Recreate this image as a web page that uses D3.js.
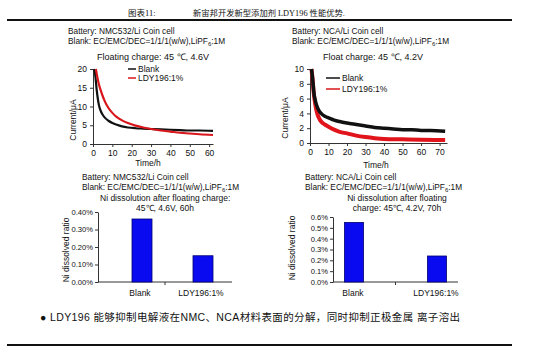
<!DOCTYPE html>
<html>
<head>
<meta charset="utf-8">
<script src="https://cdn.jsdelivr.net/npm/d3@7"></script>
<style>
  body { margin: 0; background: #fff; }
  svg text { font-family: "Liberation Sans", Arial, sans-serif; fill: #111; }
  .axis path, .axis line { stroke: #333; }
  .axis text { font-family: "Liberation Sans", Arial, sans-serif; font-size: 8.5px; fill: #111; }
  .bars .axis text { font-size: 7.6px; }
</style>
</head>
<body>
<svg id="chart" width="550" height="350"></svg>
<script>
// floating charge current, NMC532/Li (time in h, current in uA)
var nmcBlankTime = [0.5, 1, 2, 3, 4, 5, 6, 8, 10, 12, 15, 18, 22, 26, 30, 35, 40, 45, 50, 55, 62];
var nmcBlankCur  = [20, 19, 14, 10.5, 8.8, 7.8, 7.1, 6.2, 5.6, 5.2, 4.7, 4.4, 4.2, 4.1, 4.0, 3.9, 3.8, 3.7, 3.6, 3.6, 3.5];
var nmcLdyTime = [1.5, 2, 3, 4, 5, 6, 8, 10, 12, 15, 18, 22, 26, 30, 35, 40, 45, 50, 55, 62];
var nmcLdyCur  = [20, 18.5, 16, 14.3, 12.8, 11.5, 9.6, 8.3, 7.3, 6.3, 5.6, 4.9, 4.4, 4.0, 3.6, 3.3, 3.0, 2.8, 2.6, 2.4];

// float charge current, NCA/Li
var ncaBlankTime = [0.8, 1.5, 2, 3, 4, 5, 6, 8, 10, 13, 16, 20, 25, 30, 35, 40, 45, 50, 55, 60, 65, 73];
var ncaBlankCur  = [10, 8.5, 7, 5.6, 4.8, 4.3, 4.0, 3.6, 3.4, 3.1, 2.9, 2.7, 2.5, 2.3, 2.1, 2.0, 1.9, 1.8, 1.8, 1.7, 1.7, 1.6];
var ncaLdyTime = [0.8, 1.5, 2, 3, 4, 5, 6, 8, 10, 13, 16, 20, 25, 30, 35, 40, 50, 60, 73];
var ncaLdyCur  = [10, 8.3, 6.8, 5.0, 3.9, 3.3, 2.9, 2.5, 2.2, 1.8, 1.5, 1.3, 1.0, 0.8, 0.65, 0.55, 0.5, 0.45, 0.4];

// Ni dissolved ratio
var groups = ['Blank', 'LDY196:1%'];
var nmcNi = [0.0036, 0.0015];
var ncaNi = [0.0055, 0.0024];

var nmcTicksX = [0, 10, 20, 30, 40, 50, 60];
var nmcTicksY = [0, 5, 10, 15, 20];
var ncaTicksX = [0, 10, 20, 30, 40, 50, 60, 70];
var ncaTicksY = [0, 2, 4, 6, 8, 10];

var svg = d3.select('#chart');

function pairs(t, v) {
  return t.map(function(d, i) { return [d, v[i]]; });
}

function txt(x, y, s, size, anchor) {
  return svg.append('text').attr('x', x).attr('y', y)
    .attr('font-size', size || 8.5)
    .attr('text-anchor', anchor || 'start')
    .text(s);
}

// electrolyte line with LiPF6 subscript
function blankLine(x, y, ratio) {
  var t = svg.append('text').attr('x', x).attr('y', y).attr('font-size', 8.3);
  t.append('tspan').text('Blank: EC/EMC/DEC=' + ratio + '(w/w),LiPF');
  t.append('tspan').attr('font-size', 6).attr('dy', 2).text('6');
  t.append('tspan').attr('dy', -2).text(':1M');
}

// header + rules
svg.append('line').attr('x1', 7).attr('x2', 512).attr('y1', 20).attr('y2', 20)
  .attr('stroke', '#111').attr('stroke-width', 2);
svg.append('line').attr('x1', 7).attr('x2', 512).attr('y1', 345).attr('y2', 345)
  .attr('stroke', '#111').attr('stroke-width', 2);
svg.append('text').attr('x', 128).attr('y', 16).attr('font-size', 8.5)
  .style('font-family', '"Liberation Serif", "Noto Sans CJK SC", serif')
  .text('图表11:');
svg.append('text').attr('x', 193).attr('y', 16).attr('font-size', 8.3)
  .style('font-family', '"Liberation Serif", "Noto Sans CJK SC", serif')
  .text('新宙邦开发新型添加剂 LDY196 性能优势.');

// line chart helper
function lineChart(o) {
  var x = d3.scaleLinear().domain(o.xDomain).range(o.xRange);
  var y = d3.scaleLinear().domain(o.yDomain).range(o.yRange);
  var g = svg.append('g');
  g.append('g').attr('class', 'axis')
    .attr('transform', 'translate(0,' + o.yRange[0] + ')')
    .call(d3.axisBottom(x).tickValues(o.xTicks).tickSize(3).tickSizeOuter(0));
  g.append('g').attr('class', 'axis')
    .attr('transform', 'translate(' + o.xRange[0] + ',0)')
    .call(d3.axisLeft(y).tickValues(o.yTicks).tickSize(3).tickSizeOuter(0));
  var line = d3.line().x(function(d) { return x(d[0]); }).y(function(d) { return y(d[1]); })
    .curve(d3.curveMonotoneX);
  o.series.forEach(function(s) {
    g.append('path').datum(s.data)
      .attr('fill', 'none').attr('stroke', s.color)
      .attr('stroke-width', s.width).attr('stroke-linejoin', 'round')
      .attr('d', line);
  });
  return g;
}

lineChart({
  xDomain: [0, 62], xRange: [93, 213], yDomain: [0, 20], yRange: [144, 69],
  xTicks: nmcTicksX, yTicks: nmcTicksY,
  series: [
    { data: pairs(nmcBlankTime, nmcBlankCur), color: '#111', width: 2.2 },
    { data: pairs(nmcLdyTime, nmcLdyCur), color: '#d8161b', width: 2.2 }
  ]
});
lineChart({
  xDomain: [0, 74], xRange: [310, 447], yDomain: [0, 10], yRange: [143, 69],
  xTicks: ncaTicksX, yTicks: ncaTicksY,
  series: [
    { data: pairs(ncaLdyTime, ncaLdyCur), color: '#e0141a', width: 4 },
    { data: pairs(ncaBlankTime, ncaBlankCur), color: '#111', width: 3.5 }
  ]
});

// top texts
txt(68, 34, 'Battery: NMC532/Li Coin cell', 8.3);
blankLine(68, 44, '1/1/1');
txt(97, 60, 'Floating charge: 45 \u2103,  4.6V', 9);
txt(148, 166, 'Time/h', 8.5, 'middle');
txt(292, 34, 'Battery: NCA/Li Coin cell', 8.3);
blankLine(292, 44, '1/1/1');
txt(323, 60, 'Float charge: 45 \u2103, 4.2V', 9);
txt(376, 168, 'Time/h', 8.5, 'middle');

svg.append('text').attr('transform', 'translate(76,120) rotate(-90)')
  .attr('text-anchor', 'middle').attr('font-size', 8.5).text('Current/\u03bcA');
svg.append('text').attr('transform', 'translate(288,118) rotate(-90)')
  .attr('text-anchor', 'middle').attr('font-size', 8.5).text('Current/\u03bcA');

// legends
function legend(x, y, gap, len) {
  [['Blank', '#111'], ['LDY196:1%', '#d8161b']].forEach(function(d, i) {
    svg.append('line').attr('x1', x).attr('x2', x + len)
      .attr('y1', y + i * gap).attr('y2', y + i * gap)
      .attr('stroke', d[1]).attr('stroke-width', 1.5);
    txt(x + len + 2, y + i * gap + 3, d[0], 8.5);
  });
}
legend(128, 69, 9, 8);
legend(326, 78, 11, 14);

// bar chart helper
function barChart(o) {
  var x = d3.scalePoint().domain(groups).range(o.centers);
  var y = d3.scaleLinear().domain(o.yDomain).range(o.yRange);
  var g = svg.append('g').attr('class', 'bars');
  g.append('g').attr('class', 'axis')
    .attr('transform', 'translate(' + o.axisX[0] + ',0)')
    .call(d3.axisLeft(y).tickValues(o.yTicks).tickFormat(d3.format(o.fmt))
      .tickSize(3).tickPadding(2).tickSizeOuter(0));
  g.append('line').attr('x1', o.axisX[0]).attr('x2', o.axisX[1])
    .attr('y1', o.yRange[0]).attr('y2', o.yRange[0]).attr('stroke', '#333');
  g.append('line').attr('x1', (o.axisX[0] + o.axisX[1]) / 2).attr('x2', (o.axisX[0] + o.axisX[1]) / 2)
    .attr('y1', o.yRange[0]).attr('y2', o.yRange[0] + 3).attr('stroke', '#333');
  g.selectAll('rect').data(o.values).enter().append('rect')
    .attr('x', function(d, i) { return x(groups[i]) + o.barShift - o.barW / 2; })
    .attr('width', o.barW)
    .attr('y', function(d) { return y(d); })
    .attr('height', function(d) { return y(0) - y(d); })
    .attr('fill', '#0a0af0').attr('stroke', '#00006e').attr('stroke-width', 0.8);
  g.selectAll('.cat').data(groups).enter().append('text')
    .attr('x', function(d) { return x(d); }).attr('y', o.yRange[0] + 14)
    .attr('text-anchor', 'middle').attr('font-size', 8.5).text(function(d) { return d; });
}

barChart({
  centers: [140, 201], axisX: [98, 232], yDomain: [0, 0.004], yRange: [282, 212],
  yTicks: [0, 0.001, 0.002, 0.003, 0.004], fmt: '.2%', values: nmcNi, barW: 20, barShift: 2
});
barChart({
  centers: [353, 436], axisX: [333, 458], yDomain: [0, 0.006], yRange: [282, 217],
  yTicks: [0, 0.001, 0.002, 0.003, 0.004, 0.005, 0.006], fmt: '.1%', values: ncaNi, barW: 19, barShift: 1
});

// bottom texts
txt(82, 180, 'Battery: NMC532/Li Coin cell', 8.3);
blankLine(82, 190, '1/1/1');
txt(100, 201, 'Ni dissolution after floating charge:', 8.5);
txt(165, 211, '45\u2103, 4.6V, 60h', 8.5, 'middle');
txt(305, 180, 'Battery: NCA/Li Coin cell', 8.3);
blankLine(305, 190, '1/1/1');
txt(397, 201, 'Ni dissolution after floating', 8.5, 'middle');
txt(397, 211, 'charge: 45\u2103, 4.2V, 70h', 8.5, 'middle');

svg.append('text').attr('transform', 'translate(69,250) rotate(-90)')
  .attr('text-anchor', 'middle').attr('font-size', 8.5).text('Ni dissolved ratio');
svg.append('text').attr('transform', 'translate(295,248) rotate(-90)')
  .attr('text-anchor', 'middle').attr('font-size', 8.5).text('Ni dissolved ratio');

svg.append('text').attr('x', 40).attr('y', 321).attr('font-size', 10.5)
  .style('font-family', '"Liberation Sans", "Noto Sans CJK SC", sans-serif')
  .attr('textLength', 420)
  .text('\u25cf LDY196 能够抑制电解液在NMC、NCA材料表面的分解，同时抑制正极金属 离子溶出');
</script>
</body>
</html>
